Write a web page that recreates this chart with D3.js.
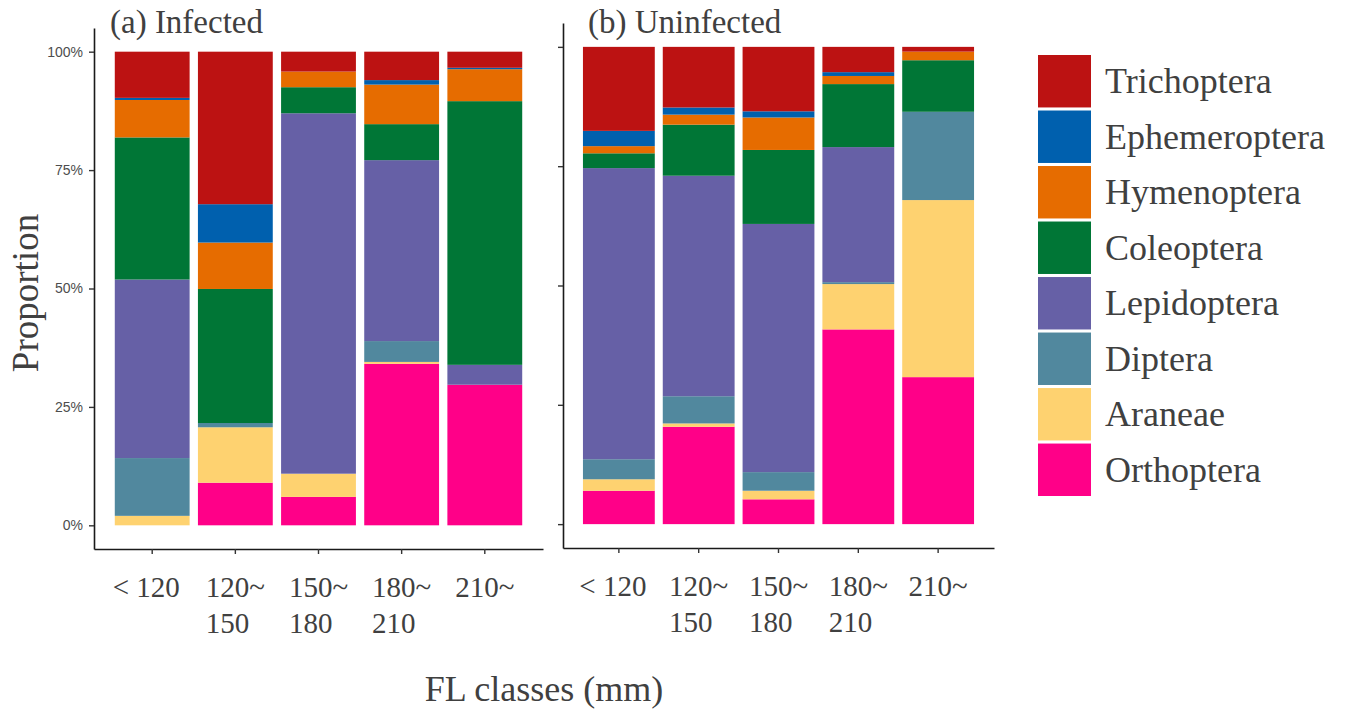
<!DOCTYPE html>
<html>
<head>
<meta charset="utf-8">
<script src="https://cdn.jsdelivr.net/npm/d3@7"></script>
<style>
  html, body { margin: 0; padding: 0; background: #fff; }
  svg { display: block; }
</style>
</head>
<body>
<svg id="chart" width="1345" height="713"></svg>
<script>
// Fork-length classes (mm)
const classes = ["< 120", "120~\n150", "150~\n180", "180~\n210", "210~"];

// Prey taxa, stacked bottom to top
const taxa = ["Orthoptera", "Araneae", "Diptera", "Lepidoptera",
              "Coleoptera", "Hymenoptera", "Ephemeroptera", "Trichoptera"];

// Legend order (top to bottom)
const legendOrder = ["Trichoptera", "Ephemeroptera", "Hymenoptera", "Coleoptera",
                     "Lepidoptera", "Diptera", "Araneae", "Orthoptera"];

const taxonColors = ["#FF0088", "#FED270", "#51889E", "#6660A6",
                     "#007636", "#E66C00", "#0060AE", "#BC1212"];

// Diet proportions (%) per taxon, one value per FL class
const infectedOrthoptera    = [0,     9.0,  6.0, 34.1, 29.7];
const infectedAraneae       = [2.0,  11.7,  4.9,  0.4,  0];
const infectedDiptera       = [12.2,  0.9,  0,    4.4,  0];
const infectedLepidoptera   = [37.7,  0,   76.1, 38.2,  4.2];
const infectedColeoptera    = [30.0, 28.3,  5.5,  7.6, 55.7];
const infectedHymenoptera   = [7.9,   9.8,  3.3,  8.35, 6.75];
const infectedEphemeroptera = [0.45,  8.1,  0,    0.95, 0.3];
const infectedTrichoptera   = [9.75, 32.2,  4.2,  6.0,  3.4];

const uninfectedOrthoptera    = [7.0,  20.4,  5.2, 40.8, 30.8];
const uninfectedAraneae       = [2.4,   0.7,  1.8,  9.5, 37.1];
const uninfectedDiptera       = [4.2,   5.7,  3.9,  0.4, 18.5];
const uninfectedLepidoptera   = [61.0, 46.2, 52.0, 28.3,  0];
const uninfectedColeoptera    = [3.1,  10.7, 15.5, 13.2, 10.8];
const uninfectedHymenoptera   = [1.5,   2.1,  6.8,  1.7,  1.8];
const uninfectedEphemeroptera = [3.2,   1.5,  1.3,  0.8,  0];
const uninfectedTrichoptera   = [17.6, 12.7, 13.5,  5.3,  1.0];

const yTicks = [0, 0.25, 0.5, 0.75, 1];

function buildRows(series) {
  return classes.map((c, i) => {
    const row = { cls: c };
    taxa.forEach((t, k) => { row[t] = series[k][i]; });
    return row;
  });
}

const infectedRows = buildRows([infectedOrthoptera, infectedAraneae, infectedDiptera,
  infectedLepidoptera, infectedColeoptera, infectedHymenoptera, infectedEphemeroptera,
  infectedTrichoptera]);
const uninfectedRows = buildRows([uninfectedOrthoptera, uninfectedAraneae, uninfectedDiptera,
  uninfectedLepidoptera, uninfectedColeoptera, uninfectedHymenoptera, uninfectedEphemeroptera,
  uninfectedTrichoptera]);

const color = d3.scaleOrdinal().domain(taxa).range(taxonColors);
const stack = d3.stack().keys(taxa).offset(d3.stackOffsetExpand);

const svg = d3.select("#chart");
const serif = "'Liberation Serif', 'Times New Roman', serif";
const sans = "'Liberation Sans', Arial, sans-serif";
const textCol = "#404040";

function drawPanel(rows, opt) {
  const x = d3.scaleBand().domain(classes)
    .range([opt.x0, opt.x1]).paddingInner(0.1).paddingOuter(0.25);
  const y = d3.scaleLinear().domain([-0.05, 1.05]).range([opt.y1, opt.y0]);

  const g = svg.append("g");
  const series = stack(rows);

  g.selectAll("g.layer").data(series).join("g")
    .attr("class", "layer")
    .attr("fill", d => color(d.key))
    .selectAll("rect").data(d => d).join("rect")
      .attr("x", d => x(d.data.cls))
      .attr("width", x.bandwidth())
      .attr("y", d => y(d[1]))
      .attr("height", d => Math.max(0, y(d[0]) - y(d[1])));

  // y axis
  const yAxis = d3.axisLeft(y).tickValues(yTicks).tickSize(5).tickSizeOuter(0).tickPadding(6)
    .tickFormat(opt.yLabels ? d3.format(".0%") : () => "");
  const ya = g.append("g").attr("transform", `translate(${opt.x0},0)`).call(yAxis);
  ya.select(".domain").attr("stroke", "#1a1a1a").attr("stroke-width", 1.6);
  ya.selectAll(".tick line").attr("stroke", "#333").attr("stroke-width", 1.4);
  ya.selectAll(".tick text").attr("font-family", sans).attr("font-size", 14).attr("fill", "#4d4d4d");

  // x axis
  const xAxis = d3.axisBottom(x).tickSize(5).tickSizeOuter(0).tickFormat(() => "");
  const xa = g.append("g").attr("transform", `translate(0,${opt.y1})`).call(xAxis);
  xa.select(".domain").attr("stroke", "#1a1a1a").attr("stroke-width", 1.6);
  xa.selectAll(".tick line").attr("stroke", "#333").attr("stroke-width", 1.4);
  xa.selectAll(".tick text").remove();

  // two-line class labels: first line centred on the tick, second line aligned with it
  xa.selectAll(".tick").each(function(d, i) {
    const lines = d.split("\n");
    const t = d3.select(this).append("text")
      .attr("font-family", serif).attr("font-size", 29).attr("fill", textCol)
      .attr("text-anchor", "start");
    lines.forEach((ln, k) => {
      t.append("tspan").attr("x", 0).attr("y", 48 + k * 36).text(ln);
    });
    const w0 = t.select("tspan").node().getComputedTextLength();
    const shift = i === 0 ? -6 : 0;
    t.attr("transform", `translate(${-w0 / 2 + shift},0)`);
  });

  // panel title
  svg.append("text").attr("x", opt.titleX).attr("y", 33)
    .attr("font-family", serif).attr("font-size", 33).attr("fill", textCol)
    .text(opt.title);
}

drawPanel(infectedRows, { x0: 94, x1: 543, y0: 28, y1: 549, yLabels: true,
  title: "(a) Infected", titleX: 110 });
drawPanel(uninfectedRows, { x0: 563, x1: 994, y0: 23, y1: 548, yLabels: false,
  title: "(b) Uninfected", titleX: 588 });

// axis titles
svg.append("text")
  .attr("transform", "translate(38,293) rotate(-90)")
  .attr("text-anchor", "middle")
  .attr("font-family", serif).attr("font-size", 37).attr("fill", textCol)
  .text("Proportion");

svg.append("text")
  .attr("x", 544).attr("y", 701)
  .attr("text-anchor", "middle")
  .attr("font-family", serif).attr("font-size", 36).attr("fill", textCol)
  .text("FL classes (mm)");

// legend
const legendY = d3.scaleBand().domain(legendOrder).range([55, 496]).paddingInner(0.055).paddingOuter(0);
const lg = svg.append("g");
lg.selectAll("rect").data(legendOrder).join("rect")
  .attr("x", 1038).attr("y", d => legendY(d))
  .attr("width", 53).attr("height", legendY.bandwidth())
  .attr("fill", d => color(d));
lg.selectAll("text").data(legendOrder).join("text")
  .attr("x", 1105).attr("y", d => legendY(d) + legendY.bandwidth() / 2 + 12)
  .attr("font-family", serif).attr("font-size", 36).attr("fill", textCol)
  .text(d => d);
</script>
</body>
</html>
